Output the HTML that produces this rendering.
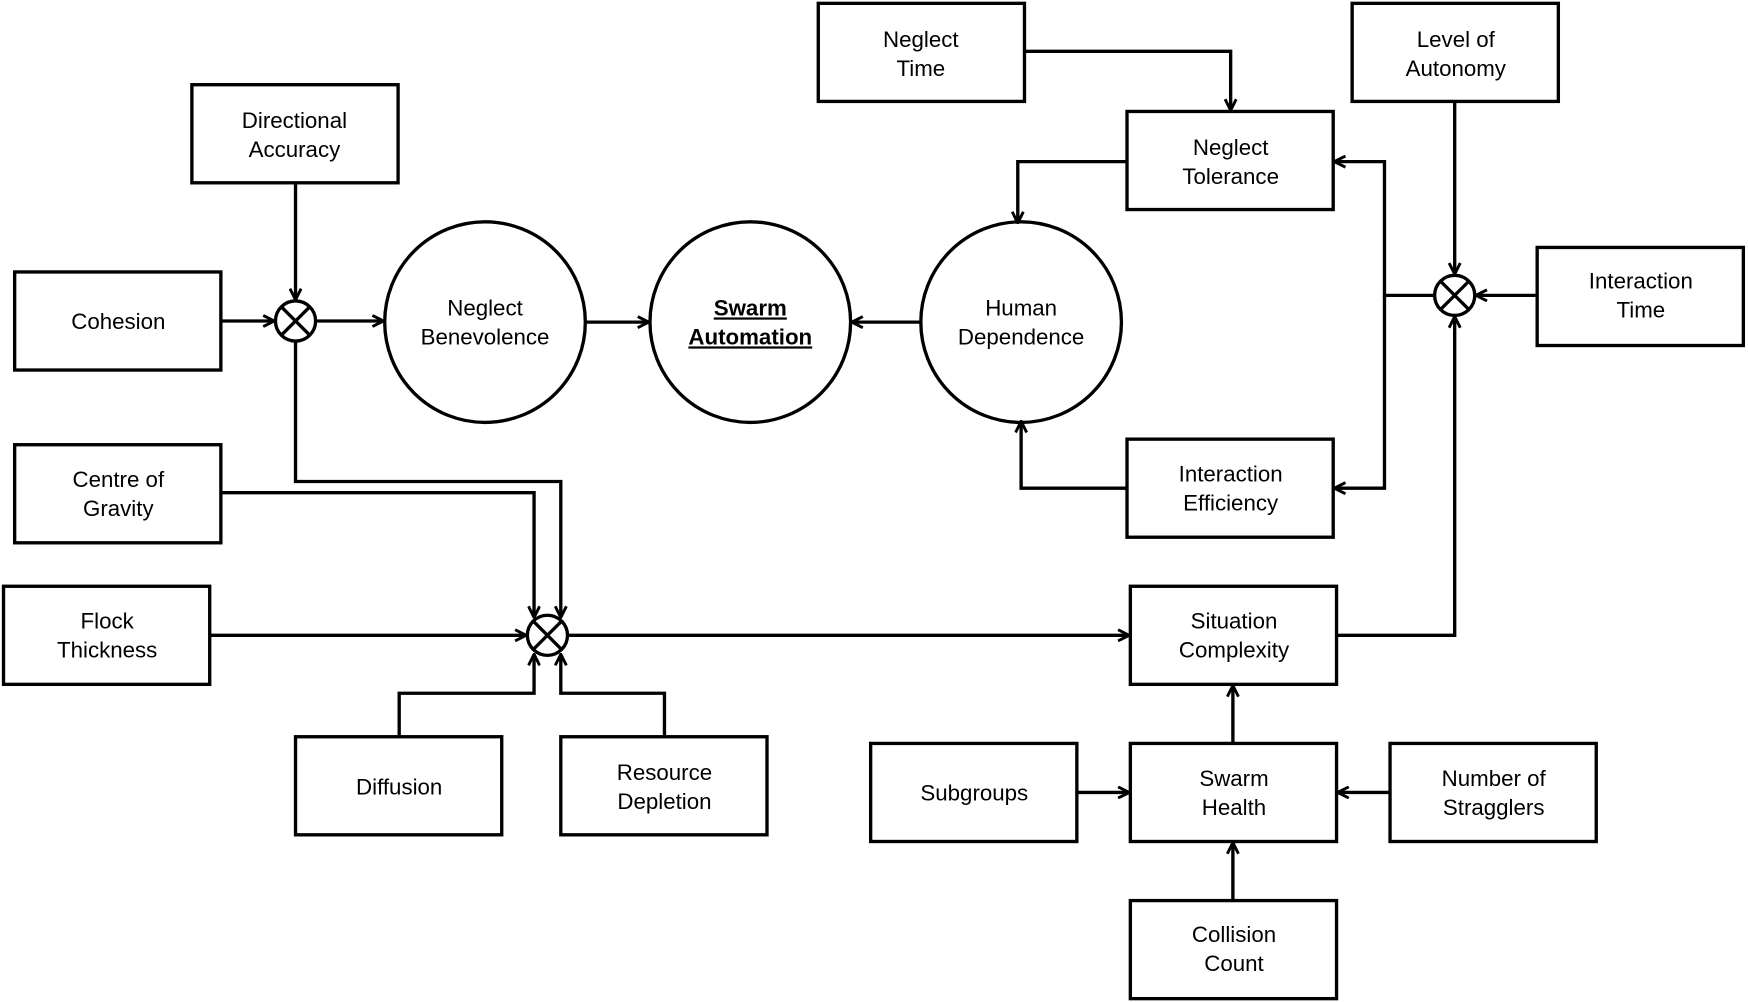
<!DOCTYPE html>
<html><head><meta charset="utf-8"><style>
html,body{margin:0;padding:0;background:#fff;}
svg{display:block;}
text{font-family:"Liberation Sans",Arial,sans-serif;font-size:20px;fill:#000;text-anchor:middle;}
</style></head><body>
<svg width="1748" height="1002" viewBox="0 0 1568 899" xmlns="http://www.w3.org/2000/svg">
<defs>
<marker id="a" viewBox="0 0 12 12" refX="11" refY="6" markerWidth="12" markerHeight="12" markerUnits="userSpaceOnUse" orient="auto">
<polyline points="1,1 11,6 1,11" fill="none" stroke="#000" stroke-width="2.6"/>
</marker>
</defs>
<g fill="#fff" stroke="#000" stroke-width="3">
<rect x="172" y="76" width="185" height="88"/>
<rect x="13" y="244" width="185" height="88"/>
<rect x="13" y="399" width="185" height="88"/>
<rect x="3" y="526" width="185" height="88"/>
<rect x="265" y="661" width="185" height="88"/>
<rect x="503" y="661" width="185" height="88"/>
<rect x="734" y="3" width="185" height="88"/>
<rect x="1213" y="3" width="185" height="88"/>
<rect x="1011" y="100" width="185" height="88"/>
<rect x="1379" y="222" width="185" height="88"/>
<rect x="1011" y="394" width="185" height="88"/>
<rect x="1014" y="526" width="185" height="88"/>
<rect x="781" y="667" width="185" height="88"/>
<rect x="1014" y="667" width="185" height="88"/>
<rect x="1247" y="667" width="185" height="88"/>
<rect x="1014" y="808" width="185" height="88"/>
<circle cx="435" cy="289" r="90"/>
<circle cx="673" cy="289" r="90"/>
<circle cx="916" cy="289" r="90"/>
<circle cx="265" cy="288" r="18"/>
<circle cx="491" cy="570" r="18"/>
<circle cx="1305" cy="265" r="18"/>
</g>
<g stroke="#000" stroke-width="3">
<line x1="252" y1="275" x2="278" y2="301"/><line x1="278" y1="275" x2="252" y2="301"/>
<line x1="478" y1="557" x2="504" y2="583"/><line x1="504" y1="557" x2="478" y2="583"/>
<line x1="1292" y1="252" x2="1318" y2="278"/><line x1="1318" y1="252" x2="1292" y2="278"/>
</g>
<g fill="none" stroke="#000" stroke-width="3" marker-end="url(#a)">
<path d="M265 164V269"/>
<path d="M198 288H246"/>
<path d="M283 288H344"/>
<path d="M265 306V432H503V554"/>
<path d="M198 442H479V554"/>
<path d="M188 570H472"/>
<path d="M358 661V622H479V587"/>
<path d="M596 661V622H503V587"/>
<path d="M509 570H1013"/>
<path d="M525 289H582"/>
<path d="M826 289H764"/>
<path d="M919 46H1104V99"/>
<path d="M1011 145H913V200"/>
<path d="M1011 438H916V378"/>
<path d="M1305 91V246"/>
<path d="M1379 265H1324"/>
<path d="M1287 265H1242V145H1197"/>
<path d="M1242 265V438H1197"/>
<path d="M1199 570H1305V284"/>
<path d="M1106 667V615"/>
<path d="M966 711H1013"/>
<path d="M1247 711H1200"/>
<path d="M1106 808V756"/>
</g>
<text x="264" y="115">Directional</text><text x="264" y="141">Accuracy</text>
<text x="106" y="295">Cohesion</text>
<text x="106" y="437">Centre of</text><text x="106" y="463">Gravity</text>
<text x="96" y="564">Flock</text><text x="96" y="590">Thickness</text>
<text x="358" y="713">Diffusion</text>
<text x="596" y="700">Resource</text><text x="596" y="726">Depletion</text>
<text x="826" y="42">Neglect</text><text x="826" y="68">Time</text>
<text x="1306" y="42">Level of</text><text x="1306" y="68">Autonomy</text>
<text x="1104" y="139">Neglect</text><text x="1104" y="165">Tolerance</text>
<text x="1472" y="259">Interaction</text><text x="1472" y="285">Time</text>
<text x="1104" y="432">Interaction</text><text x="1104" y="458">Efficiency</text>
<text x="1107" y="564">Situation</text><text x="1107" y="590">Complexity</text>
<text x="874" y="718">Subgroups</text>
<text x="1107" y="705">Swarm</text><text x="1107" y="731">Health</text>
<text x="1340" y="705">Number of</text><text x="1340" y="731">Stragglers</text>
<text x="1107" y="845">Collision</text><text x="1107" y="871">Count</text>
<text x="435" y="283">Neglect</text><text x="435" y="309">Benevolence</text>
<text x="916" y="283">Human</text><text x="916" y="309">Dependence</text>
<text x="673" y="283" font-weight="bold" text-decoration="underline">Swarm</text>
<text x="673" y="309" font-weight="bold" text-decoration="underline">Automation</text>
</svg>
</body></html>
